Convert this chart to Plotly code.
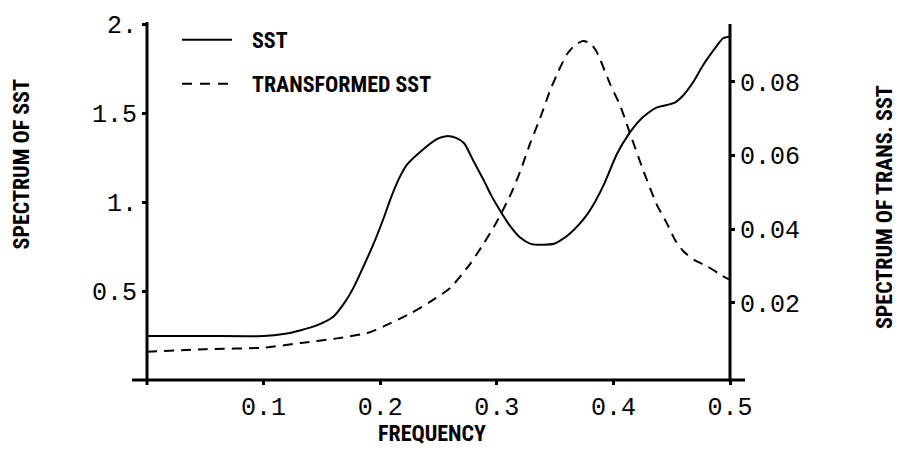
import plotly.graph_objects as go

# ---- data ----
sst_freq = [0.0, 0.05, 0.1, 0.117, 0.132, 0.146, 0.16, 0.17, 0.178, 0.186, 0.194,
            0.203, 0.209, 0.216, 0.223, 0.234, 0.249, 0.257, 0.265, 0.272, 0.28,
            0.289, 0.295, 0.303, 0.312, 0.32, 0.329, 0.34, 0.349, 0.356, 0.363,
            0.37, 0.378, 0.385, 0.392, 0.403, 0.413, 0.42, 0.426, 0.437, 0.446,
            0.453, 0.46, 0.469, 0.477, 0.489, 0.494, 0.5]
sst_spec = [0.247, 0.247, 0.247, 0.258, 0.28, 0.308, 0.357, 0.44, 0.53, 0.643, 0.76,
            0.91, 1.02, 1.13, 1.21, 1.28, 1.355, 1.37, 1.36, 1.33, 1.23,
            1.12, 1.04, 0.95, 0.86, 0.80, 0.765, 0.76, 0.765, 0.79, 0.825,
            0.87, 0.935, 1.01, 1.10, 1.27, 1.38, 1.44, 1.48, 1.53, 1.545,
            1.56, 1.60, 1.68, 1.77, 1.88, 1.92, 1.93]

trans_freq = [0.0, 0.05, 0.1, 0.132, 0.16, 0.189, 0.203, 0.226, 0.243, 0.26, 0.277,
              0.289, 0.3, 0.312, 0.32, 0.329, 0.337, 0.346, 0.353, 0.36, 0.367,
              0.374, 0.38, 0.385, 0.389, 0.397, 0.406, 0.414, 0.426, 0.437, 0.446,
              0.453, 0.46, 0.47, 0.48, 0.493, 0.5]
trans_spec = [0.0067, 0.0074, 0.0078, 0.0091, 0.0102, 0.0118, 0.0136, 0.0171, 0.0203, 0.0240, 0.0305,
              0.0362, 0.0420, 0.0495, 0.0556, 0.0636, 0.0700, 0.0779, 0.0830, 0.0874, 0.0900,
              0.0911, 0.0905, 0.0885, 0.0858, 0.0795, 0.0734, 0.0662, 0.0556, 0.0468, 0.0415,
              0.0370, 0.0340, 0.0315, 0.0300, 0.0274, 0.0262]

x_ticks = [0.1, 0.2, 0.3, 0.4, 0.5]
x_tick_text = ["0.1", "0.2", "0.3", "0.4", "0.5"]
y_ticks = [0.5, 1.0, 1.5, 2.0]
y_tick_text = ["0.5", "1.", "1.5", "2."]
y2_ticks = [0.02, 0.04, 0.06, 0.08]
y2_tick_text = ["0.02", "0.04", "0.06", "0.08"]

series_names = ["SST", "TRANSFORMED SST"]

MONO = "Liberation Mono, Courier New, monospace"
NARROW = "Roboto Condensed, Liberation Sans Narrow, Arial Narrow, Liberation Sans, sans-serif"

fig = go.Figure()
fig.add_trace(go.Scatter(x=sst_freq, y=sst_spec, mode="lines", name=series_names[0],
                         line=dict(color="black", width=2, shape="spline", smoothing=0.6),
                         yaxis="y", showlegend=False))
fig.add_trace(go.Scatter(x=trans_freq, y=trans_spec, mode="lines", name=series_names[1],
                         line=dict(color="black", width=2, dash="10px,7px", shape="spline", smoothing=0.6),
                         yaxis="y2", showlegend=False))

fig.update_layout(
    width=899, height=450,
    margin=dict(l=147, r=169, t=16, b=70),
    paper_bgcolor="white", plot_bgcolor="white",
    font=dict(family=MONO, size=25, color="black"),
    xaxis=dict(range=[0, 0.5], tickvals=x_ticks, ticktext=x_tick_text,
               showgrid=False, zeroline=False, showline=False,
               ticks="outside", ticklen=4, tickwidth=3, tickcolor="black",
               tickfont=dict(family=MONO, size=25)),
    yaxis=dict(range=[0, 2], tickvals=y_ticks, ticktext=y_tick_text,
               showgrid=False, zeroline=False, showline=False,
               ticks="outside", ticklen=4, tickwidth=3, tickcolor="black",
               tickfont=dict(family=MONO, size=25)),
    yaxis2=dict(range=[-0.00097, 0.0957], tickvals=y2_ticks, ticktext=y2_tick_text,
                overlaying="y", side="right",
                showgrid=False, zeroline=False, showline=False,
                ticks="outside", ticklen=4, tickwidth=3, tickcolor="black",
                tickfont=dict(family=MONO, size=25)),
)

# axis lines (extend slightly past the plot area like the reference)
fig.add_shape(type="line", xref="paper", yref="paper", x0=-0.0257, x1=1.0257, y0=0, y1=0,
              line=dict(color="black", width=3))
fig.add_shape(type="line", xref="paper", yref="paper", x0=0, x1=0, y0=-0.0137, y1=1.0055,
              line=dict(color="black", width=3))
fig.add_shape(type="line", xref="paper", yref="paper", x0=1, x1=1, y0=-0.0055, y1=1.0,
              line=dict(color="black", width=3))

# legend
fig.add_shape(type="line", xref="paper", yref="paper", x0=0.060, x1=0.1458, y0=0.956, y1=0.956,
              line=dict(color="black", width=2))
fig.add_shape(type="line", xref="paper", yref="paper", x0=0.060, x1=0.1458, y0=0.8324, y1=0.8324,
              line=dict(color="black", width=2, dash="10px,8px"))
fig.add_annotation(xref="paper", yref="paper", x=0.1767, y=0.9533, text=series_names[0],
                   showarrow=False, xanchor="left", yanchor="middle",
                   font=dict(family=NARROW, size=22, color="black", weight="bold"))
fig.add_annotation(xref="paper", yref="paper", x=0.1767, y=0.8297, text=series_names[1],
                   showarrow=False, xanchor="left", yanchor="middle",
                   font=dict(family=NARROW, size=22, color="black", weight="bold"))

# axis titles
fig.add_annotation(xref="paper", yref="paper", x=-0.2153, y=0.607, text="SPECTRUM OF SST",
                   textangle=-90, showarrow=False, xanchor="center", yanchor="middle",
                   font=dict(family=NARROW, size=22, color="black", weight="bold"))
fig.add_annotation(xref="paper", yref="paper", x=1.2659, y=0.486, text="SPECTRUM OF TRANS. SST",
                   textangle=-90, showarrow=False, xanchor="center", yanchor="middle",
                   font=dict(family=NARROW, size=22, color="black", weight="bold"))
fig.add_annotation(xref="paper", yref="paper", x=0.4889, y=-0.151, text="FREQUENCY",
                   showarrow=False, xanchor="center", yanchor="middle",
                   font=dict(family=NARROW, size=22, color="black", weight="bold"))

fig.write_html("out.html")
